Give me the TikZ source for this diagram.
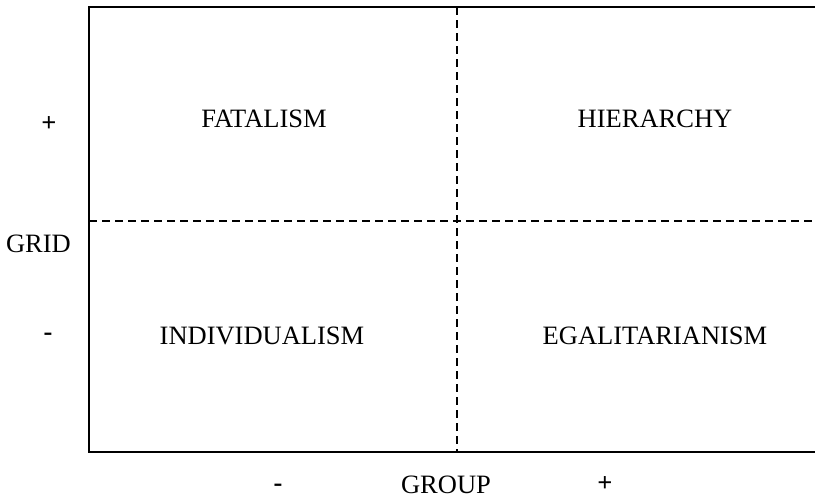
\documentclass[tikz,border=0pt]{standalone}
\usepackage{fontspec}
\setmainfont{Liberation Serif}
\begin{document}
\begin{tikzpicture}[x=1pt,y=-1pt,
  lbl/.style={inner sep=0pt,anchor=center,font=\fontsize{26.5}{30}\selectfont},
  sign/.style={inner sep=0pt,anchor=center,font=\fontsize{26.5}{30}\selectfont\bfseries},
  frame/.style={line width=2.5pt},
  divider/.style={line width=2.2pt,dash pattern=on 8pt off 5pt}]
\useasboundingbox (0,0) rectangle (815,499);
\coordinate (tl) at (89,7);
\coordinate (tr) at (815,7);
\coordinate (bl) at (89,452);
\coordinate (br) at (815,452);
\coordinate (ml) at (89,221);
\coordinate (mr) at (815,221);
\coordinate (mt) at (457,7);
\coordinate (mb) at (457,452);
\draw[frame] (tr) -- (tl) -- (bl) -- (br);
\draw[divider] (ml) -- (mr);
\draw[divider] (mt) -- (mb);
\node[lbl] (fat) at (264,119) {FATALISM};
\node[lbl] (hie) at (655,119) {HIERARCHY};
\node[lbl] (ind) at (262,336) {INDIVIDUALISM};
\node[lbl] (ega) at (655,336) {EGALITARIANISM};
\node[sign] (gplus) at (49,124) {+};
\node[lbl] (grid) at (38.5,244) {GRID};
\node[sign] (gminus) at (48,337) {-};
\node[sign] (xminus) at (278,488) {-};
\node[lbl] (group) at (446,485) {GROUP};
\node[sign] (xplus) at (605,484) {+};
\end{tikzpicture}
\end{document}
